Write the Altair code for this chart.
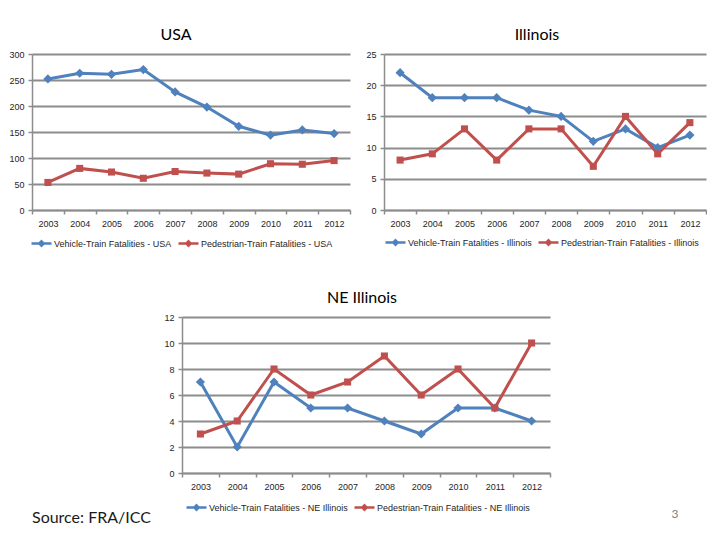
import altair as alt
import pandas as pd

years = ["2003", "2004", "2005", "2006", "2007", "2008", "2009", "2010", "2011", "2012"]

usa_vehicle = [252, 263, 261, 270, 227, 198, 161, 144, 154, 147]
usa_ped = [53, 80, 73, 61, 74, 71, 69, 89, 88, 95]
il_vehicle = [22, 18, 18, 18, 16, 15, 11, 13, 10, 12]
il_ped = [8, 9, 13, 8, 13, 13, 7, 15, 9, 14]
ne_vehicle = [7, 2, 7, 5, 5, 4, 3, 5, 5, 4]
ne_ped = [3, 4, 8, 6, 7, 9, 6, 8, 5, 10]

usa_ticks = [0, 50, 100, 150, 200, 250, 300]
il_ticks = [0, 5, 10, 15, 20, 25]
ne_ticks = [0, 2, 4, 6, 8, 10, 12]

source_label = ["Source: FRA/ICC"]
page_label = ["3"]

BLUE = "#4F81BD"
RED = "#C0504D"
GRID = "#8C8C8C"
LABEL_FONT = "Liberation Sans Narrow, Liberation Sans, sans-serif"
TITLE_FONT = "Lato, Open Sans, sans-serif"

LEG_PATH = "M-1,0H1M0,-0.22L0.22,0L0,0.22L-0.22,0Z"


def panel(title, region, vehicle, ped, ticks, width, title_dx, legend_x, legend_y):
    names = [f"Vehicle-Train Fatalities - {region}", f"Pedestrian-Train Fatalities - {region}"]
    df = pd.DataFrame({
        "year": years + years,
        "value": vehicle + ped,
        "series": [names[0]] * len(years) + [names[1]] * len(years),
    })
    x = alt.X("year:O",
              scale=alt.Scale(type="band", paddingInner=0, paddingOuter=0),
              axis=alt.Axis(title=None, labelAngle=0, tickBand="extent", tickSize=4,
                            tickColor=GRID, tickWidth=1.5, domainColor=GRID, domainWidth=1.5,
                            labelFont=LABEL_FONT, labelFontSize=9, labelColor="#262626",
                            labelPadding=5, grid=False))
    y = alt.Y("value:Q",
              scale=alt.Scale(domain=[ticks[0], ticks[-1]], nice=False),
              axis=alt.Axis(title=None, values=ticks, grid=True, gridColor=GRID, gridWidth=2,
                            tickSize=4, tickColor=GRID, tickWidth=1.5, domainColor=GRID,
                            domainWidth=1.5, labelFont=LABEL_FONT, labelFontSize=9,
                            labelColor="#262626", labelPadding=4))
    leg = alt.Legend(title=None, orient="none", legendX=legend_x, legendY=legend_y,
                     direction="horizontal", columns=2, gridAlign="none",
                     symbolType=LEG_PATH, symbolSize=400,
                     symbolStrokeWidth=2.5, labelFont=LABEL_FONT, labelFontSize=9,
                     labelColor="#262626", labelOffset=1, columnPadding=1, padding=0,
                     labelLimit=300)
    color_leg = alt.Color("series:N", scale=alt.Scale(domain=names, range=[BLUE, RED]), legend=leg)
    color = alt.Color("series:N", scale=alt.Scale(domain=names, range=[BLUE, RED]), legend=None)
    base = alt.Chart(df)
    line = base.mark_line(strokeWidth=3).encode(x=x, y=y, color=color_leg)
    pts = base.mark_point(filled=True, opacity=1).encode(
        x=x, y=y, color=color,
        shape=alt.condition(alt.datum.series == names[0], alt.value("diamond"), alt.value("square")),
        size=alt.condition(alt.datum.series == names[0], alt.value(85), alt.value(50)),
    )
    return alt.layer(line, pts).properties(
        width=width, height=156,
        title=alt.Title(title, font=TITLE_FONT, fontSize=16, fontWeight="normal",
                        color="black", anchor="middle", offset=7, dx=title_dx),
    )


usa = panel("USA", "USA", usa_vehicle, usa_ped, usa_ticks, 318, -15, -2, 178)
il = panel("Illinois", "Illinois", il_vehicle, il_ped, il_ticks, 322, -8, 0, 177)
ne_panel = panel("NE Illinois", "NE Illinois", ne_vehicle, ne_ped, ne_ticks, 368, -4, 3, 179)

page = alt.Chart(pd.DataFrame({"t": page_label})).mark_text(
    align="center", baseline="middle", font=TITLE_FONT, fontSize=12, color="#7F7F7F"
).encode(text="t:N", x=alt.value(493), y=alt.value(197))

ne = alt.layer(ne_panel, page)

src = alt.Chart(pd.DataFrame({"t": source_label})).mark_text(
    align="left", baseline="middle", font=TITLE_FONT, fontSize=16, color="#1A1A1A"
).encode(text="t:N", x=alt.value(0), y=alt.value(201)).properties(width=140, height=156)

indep = dict(color="independent")

top = alt.hconcat(usa, il, spacing=34, bounds="flush").resolve_scale(**indep)
bottom = alt.hconcat(src, ne, spacing=10, bounds="flush").resolve_scale(**indep)

chart = alt.vconcat(top, bottom, spacing=263, bounds="flush").resolve_scale(**indep).properties(
    padding={"left": 0, "top": 19, "right": 0, "bottom": 0},
    background="white",
).configure_view(stroke=None)

chart.save("out.html", embed_options={"renderer": "svg", "actions": False})
